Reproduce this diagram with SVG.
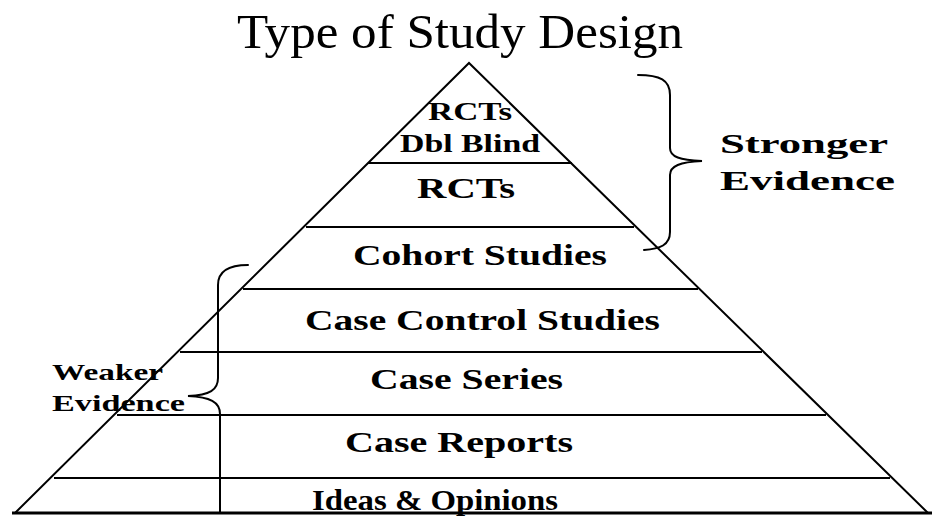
<svg xmlns="http://www.w3.org/2000/svg" width="932" height="517" viewBox="0 0 932 517">
  <style>
    .ln { stroke: #000; stroke-width: 2; fill: none; }
    .base { stroke: #000; stroke-width: 3; fill: none; }
    .brace { stroke: #000; stroke-width: 2; fill: none; stroke-linecap: round; }
    .lbl { font-family: "Liberation Serif", "Times New Roman", serif; font-weight: bold; fill: #000; }
    .title { font-family: "Liberation Serif", "Times New Roman", serif; font-weight: normal; fill: #000; }
  </style>
  <rect width="932" height="517" fill="#fff"/>

  <g id="title">
    <text class="title" x="237" y="48" font-size="48" textLength="446" lengthAdjust="spacingAndGlyphs">Type of Study Design</text>
  </g>

  <g id="pyramid">
    <polyline class="ln" points="15,513 469,63 928,513"/>
    <line class="ln" x1="368" y1="163" x2="572" y2="163"/>
    <line class="ln" x1="306" y1="227" x2="634" y2="227"/>
    <line class="ln" x1="243" y1="289" x2="698" y2="289"/>
    <line class="ln" x1="180" y1="352" x2="762" y2="352"/>
    <line class="ln" x1="117" y1="415" x2="826" y2="415"/>
    <line class="ln" x1="54" y1="478" x2="890" y2="478"/>
    <line class="base" x1="12" y1="513" x2="932" y2="513"/>
  </g>

  <g id="level-rcts-dbl-blind">
    <text class="lbl" x="428" y="120" font-size="25" textLength="84" lengthAdjust="spacingAndGlyphs">RCTs</text>
    <text class="lbl" x="400" y="152" font-size="26" textLength="140" lengthAdjust="spacingAndGlyphs">Dbl Blind</text>
  </g>
  <g id="level-rcts">
    <text class="lbl" x="417" y="198" font-size="29" textLength="98" lengthAdjust="spacingAndGlyphs">RCTs</text>
  </g>
  <g id="level-cohort">
    <text class="lbl" x="353" y="265" font-size="29" textLength="254" lengthAdjust="spacingAndGlyphs">Cohort Studies</text>
  </g>
  <g id="level-case-control">
    <text class="lbl" x="305" y="330" font-size="29" textLength="355" lengthAdjust="spacingAndGlyphs">Case Control Studies</text>
  </g>
  <g id="level-case-series">
    <text class="lbl" x="370" y="389" font-size="29" textLength="193" lengthAdjust="spacingAndGlyphs">Case Series</text>
  </g>
  <g id="level-case-reports">
    <text class="lbl" x="345" y="452" font-size="30" textLength="228" lengthAdjust="spacingAndGlyphs">Case Reports</text>
  </g>
  <g id="level-ideas">
    <text class="lbl" x="312" y="510" font-size="30" textLength="246" lengthAdjust="spacingAndGlyphs">Ideas &amp; Opinions</text>
  </g>

  <g id="stronger-evidence">
    <text class="lbl" x="720" y="153" font-size="27" textLength="168" lengthAdjust="spacingAndGlyphs">Stronger</text>
    <text class="lbl" x="720" y="190" font-size="27" textLength="175" lengthAdjust="spacingAndGlyphs">Evidence</text>
  </g>
  <g id="weaker-evidence">
    <text class="lbl" x="52" y="380" font-size="24" textLength="111" lengthAdjust="spacingAndGlyphs">Weaker</text>
    <text class="lbl" x="52" y="411" font-size="24" textLength="133" lengthAdjust="spacingAndGlyphs">Evidence</text>
  </g>

  <g id="connectors">
    <path class="brace" d="M638,75 C660,75 670,80 670,95 L670,148 C670,157 680,160 702,161 C680,162 670,166 670,175 L670,232 C670,245 660,249 644,250"/>
    <path class="brace" d="M248,265 C228,265 218,272 218,285 L218,378 C218,390 210,395 188,396 C210,397 220,402 220,414 L220,512"/>
  </g>
</svg>
